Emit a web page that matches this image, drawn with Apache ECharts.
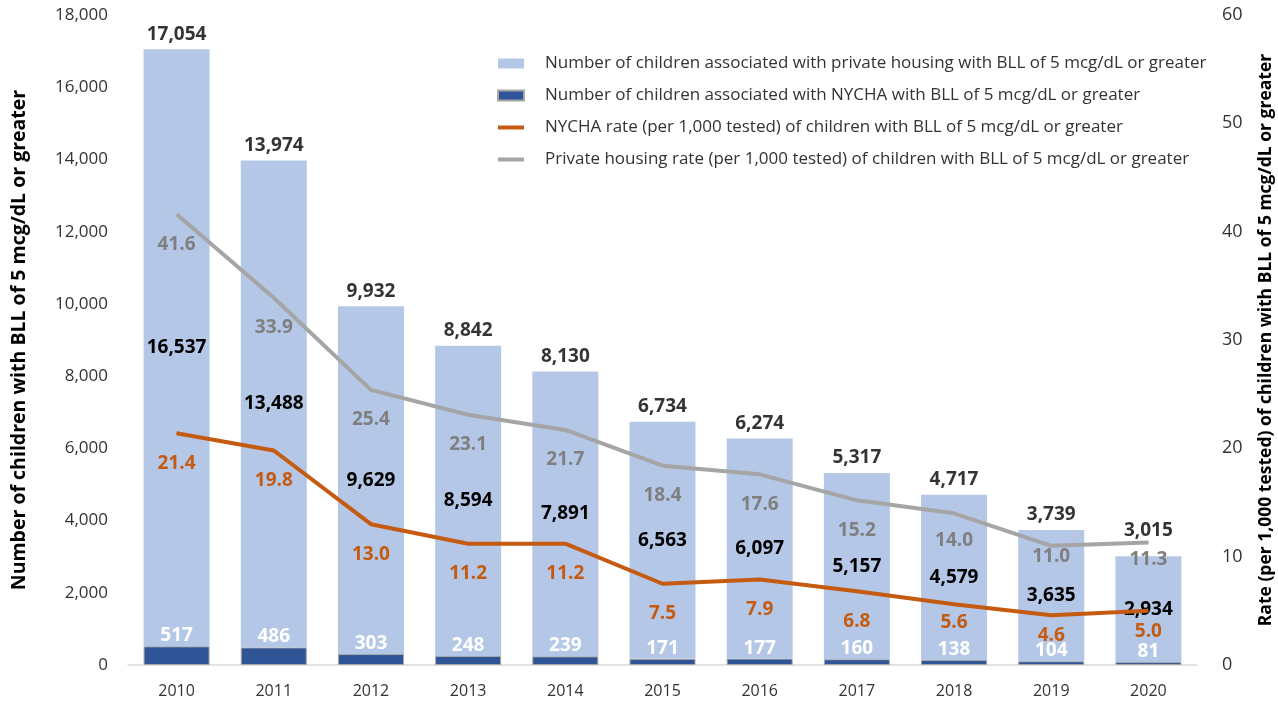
<!DOCTYPE html>
<html><head><meta charset="utf-8">
<script src="https://cdn.jsdelivr.net/npm/echarts@6/dist/echarts.min.js"></script>
<style>html,body{margin:0;padding:0;background:#fff}#c{width:1278px;height:702px}</style>
</head><body><div id="c"></div>
<script>
const years = ['2010','2011','2012','2013','2014','2015','2016','2017','2018','2019','2020'];
const privateCounts = [16537,13488,9629,8594,7891,6563,6097,5157,4579,3635,2934];
const nychaCounts = [517,486,303,248,239,171,177,160,138,104,81];
const nychaRate = [21.4,19.8,13.0,11.2,11.2,7.5,7.9,6.8,5.6,4.6,5.0];
const privateRate = [41.6,33.9,25.4,23.1,21.7,18.4,17.6,15.2,14.0,11.0,11.3];
const leftTicks = [0,2000,4000,6000,8000,10000,12000,14000,16000,18000];
const rightTicks = [0,10,20,30,40,50,60];

// label nudges (layout only, pixels) to mimic manually placed labels
const totalLabelNudge = [0,0,0,0,0,0,0,0,0,0,-11];
const nychaRateLabelNudge = [0,0,0,0,0,0,0,0,-12,-10,-9];
const privateRateLabelNudge = [0,0,0,0,0,0,0,0,-3,-19,-13];

const totals = privateCounts.map((v,i)=>v+nychaCounts[i]);
const fmt = v => Number(v).toLocaleString('en-US');
const nudged = (vals, nudge) => vals.map((v,i)=> nudge[i] ? {value:v, label:{offset:[0,nudge[i]]}} : v);
const nameP = 'Number of children associated with private housing with BLL of 5 mcg/dL or greater';
const nameN = 'Number of children associated with NYCHA with BLL of 5 mcg/dL or greater';
const nameNR = 'NYCHA rate (per 1,000 tested) of children with BLL of 5 mcg/dL or greater';
const namePR = 'Private housing rate (per 1,000 tested) of children with BLL of 5 mcg/dL or greater';
const F = "'Open Sans', 'Noto Sans', sans-serif";
const lineIcon = 'path://M0,0 H26 V4 H0 Z';

const chart = echarts.init(document.getElementById('c'));
chart.setOption({
  animation:false,
  grid:{left:128, right:81, top:15, bottom:37, outerBoundsMode:'none', containLabel:false},
  legend:{
    orient:'vertical', left:492, top:50, itemGap:15, itemWidth:26, itemHeight:10,
    textStyle:{fontFamily:F, fontSize:17, color:'#333', padding:[0,0,0,16]},
    data:[{name:nameP, icon:'rect'},{name:nameN, icon:'rect'},{name:nameNR, icon:lineIcon},{name:namePR, icon:lineIcon}]
  },
  xAxis:{type:'category', data:years,
    axisLine:{lineStyle:{color:'#d9d9d9', width:1.5}}, axisTick:{show:false},
    axisLabel:{fontFamily:F, fontSize:16, color:'#333', margin:18}},
  yAxis:[
    {type:'value', min:leftTicks[0], max:leftTicks[leftTicks.length-1], interval:2000,
     name:'Number of children with BLL of 5 mcg/dL or greater', nameLocation:'middle', nameGap:99,
     nameTextStyle:{fontFamily:F, fontSize:19.5, fontWeight:'bold', color:'#000'},
     axisLabel:{fontFamily:F, fontSize:17, color:'#333', margin:20, formatter:v=>fmt(v)},
     splitLine:{show:false}, axisLine:{show:false}, axisTick:{show:false}},
    {type:'value', min:rightTicks[0], max:rightTicks[rightTicks.length-1], interval:10,
     name:'Rate (per 1,000 tested) of children with BLL of 5 mcg/dL or greater', nameLocation:'middle', nameGap:60, nameRotate:90,
     nameTextStyle:{fontFamily:F, fontSize:17.5, fontWeight:'bold', color:'#000', padding:[0,0,0,0]},
     axisLabel:{fontFamily:F, fontSize:18, color:'#333', margin:25},
     splitLine:{show:false}, axisLine:{show:false}, axisTick:{show:false}}
  ],
  series:[
    {name:nameN, type:'bar', stack:'a', data:nychaCounts, barWidth:66,
     itemStyle:{color:'#2f5597', borderColor:'#a6a6a6', borderWidth:1},
     label:{show:true, position:'top', distance:1, color:'#fff', fontFamily:F, fontSize:19, fontWeight:'bold', formatter:p=>fmt(p.value)}},
    {name:nameP, type:'bar', stack:'a', data:privateCounts, barWidth:66,
     itemStyle:{color:'#b4c7e7'},
     label:{show:true, position:'inside', color:'#000', fontFamily:F, fontSize:19, fontWeight:'bold', formatter:p=>fmt(p.value)}},
    {name:'total', type:'scatter', data:nudged(totals,totalLabelNudge), symbolSize:1, itemStyle:{color:'rgba(0,0,0,0)'}, z:5,
     label:{show:true, position:'top', distance:5, color:'#000', fontFamily:F, fontSize:19, fontWeight:'bold', formatter:p=>fmt(p.value)}},
    {name:nameNR, type:'line', yAxisIndex:1, data:nudged(nychaRate,nychaRateLabelNudge), symbol:'circle', symbolSize:1, showSymbol:true,
     lineStyle:{color:'#c55a11', width:4}, itemStyle:{color:'#c55a11'},
     label:{show:true, position:'bottom', distance:20, color:'#c55a11', fontFamily:F, fontSize:19, fontWeight:'bold', formatter:p=>p.value.toFixed(1)}},
    {name:namePR, type:'line', yAxisIndex:1, data:nudged(privateRate,privateRateLabelNudge), symbol:'circle', symbolSize:1, showSymbol:true,
     lineStyle:{color:'#a5a5a5', width:4}, itemStyle:{color:'#a5a5a5'},
     label:{show:true, position:'bottom', distance:20, color:'#7f7f7f', fontFamily:F, fontSize:19, fontWeight:'bold', formatter:p=>p.value.toFixed(1)}}
  ]
});
</script></body></html>
